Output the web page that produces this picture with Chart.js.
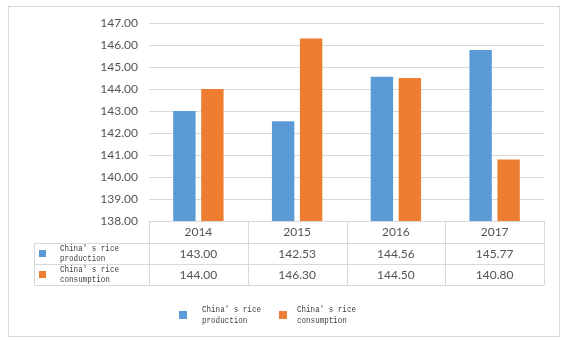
<!DOCTYPE html>
<html>
<head>
<meta charset="utf-8">
<script src="https://cdn.jsdelivr.net/npm/chart.js@4/dist/chart.umd.min.js"></script>
<style>
  html, body { margin: 0; padding: 0; background: #fff; }
  #wrap { width: 566px; height: 341px; position: relative; }
</style>
</head>
<body>
<div id="wrap"><canvas id="c" width="566" height="341"></canvas></div>
<script>
// Chart data
const years = ['2014', '2015', '2016', '2017'];
const production = [143.00, 142.53, 144.56, 145.77];
const consumption = [144.00, 146.30, 144.50, 140.80];
const seriesNames = [["China' s rice", "production"], ["China' s rice", "consumption"]];
const seriesColors = ['#5B9BD5', '#ED7D31'];
const yMin = 138, yMax = 147, yStep = 1;

const valueFont = '12px Lato, "Liberation Sans", sans-serif';
const labelFont = '9px "Liberation Mono", "DejaVu Sans Mono", monospace';
const lineColor = '#d9d9d9';
const textColor = '#545454';

// narrow monospace label text (condensed horizontally)
function drawNarrow(ctx, text, x, y) {
  ctx.save();
  ctx.translate(x, y);
  ctx.scale(0.84, 1);
  ctx.fillText(text, 0, 0);
  ctx.restore();
}

// Excel-style data table under the plot plus the bottom legend and frame
const tablePlugin = {
  id: 'dataTable',
  beforeDraw(chart) {
    const ctx = chart.ctx;
    ctx.save();
    ctx.strokeStyle = lineColor;
    ctx.lineWidth = 1;
    ctx.strokeRect(8.5, 6.5, 551, 330);
    ctx.restore();
  },
  afterDraw(chart) {
    const ctx = chart.ctx;
    const xs = chart.scales.x;
    const area = chart.chartArea;
    const n = chart.data.labels.length;
    const catW = (area.right - area.left) / n;
    const top = Math.round(area.bottom);
    const rows = [top, top + 22, top + 43, top + 64];
    const tableLeft = 34;
    const left = Math.round(area.left), right = Math.round(area.right);

    ctx.save();
    ctx.strokeStyle = lineColor;
    ctx.lineWidth = 1;
    ctx.beginPath();
    // horizontal rules
    ctx.moveTo(left, rows[0] + 0.5); ctx.lineTo(right, rows[0] + 0.5);
    for (let r = 1; r < rows.length; r++) {
      ctx.moveTo(tableLeft, rows[r] + 0.5); ctx.lineTo(right, rows[r] + 0.5);
    }
    // vertical rules
    ctx.moveTo(tableLeft + 0.5, rows[1]); ctx.lineTo(tableLeft + 0.5, rows[3]);
    for (let i = 0; i <= n; i++) {
      const x = Math.round(area.left + i * catW) + 0.5;
      ctx.moveTo(x, rows[0]); ctx.lineTo(x, rows[3]);
    }
    ctx.stroke();

    // header (categories) and values
    ctx.fillStyle = textColor;
    ctx.font = valueFont;
    ctx.textAlign = 'center';
    ctx.textBaseline = 'middle';
    chart.data.labels.forEach((lab, i) => {
      const cx = xs.getPixelForValue(i);
      ctx.fillText(lab, cx, (rows[0] + rows[1]) / 2 + 0.5);
      chart.data.datasets.forEach((ds, d) => {
        ctx.fillText(ds.data[i].toFixed(2), cx, (rows[d + 1] + rows[d + 2]) / 2 + 0.5);
      });
    });

    // row headers with colour keys
    ctx.font = labelFont;
    ctx.textAlign = 'left';
    chart.data.datasets.forEach((ds, d) => {
      const cy = (rows[d + 1] + rows[d + 2]) / 2;
      ctx.fillStyle = ds.backgroundColor;
      ctx.fillRect(39, Math.round(cy - 3.5), 7, 7);
      ctx.fillStyle = '#404040';
      const lines = seriesNames[d];
      drawNarrow(ctx, lines[0], 60, cy - 4.5);
      drawNarrow(ctx, lines[1], 60, cy + 5.5);
    });

    // legend
    const legendY = 315;
    const legendItems = [{ box: 179, text: 202 }, { box: 279, text: 297 }];
    chart.data.datasets.forEach((ds, d) => {
      const it = legendItems[d];
      ctx.fillStyle = ds.backgroundColor;
      ctx.fillRect(it.box, legendY - 4, 8, 8);
      ctx.fillStyle = '#404040';
      const lines = seriesNames[d];
      drawNarrow(ctx, lines[0], it.text, legendY - 5);
      drawNarrow(ctx, lines[1], it.text, legendY + 6);
    });
    ctx.restore();
  }
};

new Chart(document.getElementById('c'), {
  type: 'bar',
  data: {
    labels: years,
    datasets: [
      { label: seriesNames[0].join(' '), data: production, backgroundColor: seriesColors[0] },
      { label: seriesNames[1].join(' '), data: consumption, backgroundColor: seriesColors[1] }
    ]
  },
  options: {
    responsive: false,
    animation: false,
    devicePixelRatio: 1,
    layout: { padding: { left: 0, right: 22, top: 23, bottom: 120 } },
    datasets: { bar: { categoryPercentage: 0.567, barPercentage: 0.8 } },
    plugins: { legend: { display: false }, tooltip: { enabled: false } },
    scales: {
      x: { display: false },
      y: {
        min: yMin,
        max: yMax,
        afterFit(s) { s.width = 149; },
        border: { display: false },
        grid: { color: lineColor, lineWidth: 1, drawTicks: false },
        ticks: {
          stepSize: yStep,
          padding: 11,
          color: textColor,
          font: { family: 'Lato, "Liberation Sans", sans-serif', size: 12 },
          callback: v => v.toFixed(2)
        }
      }
    }
  },
  plugins: [tablePlugin]
});
</script>
</body>
</html>
